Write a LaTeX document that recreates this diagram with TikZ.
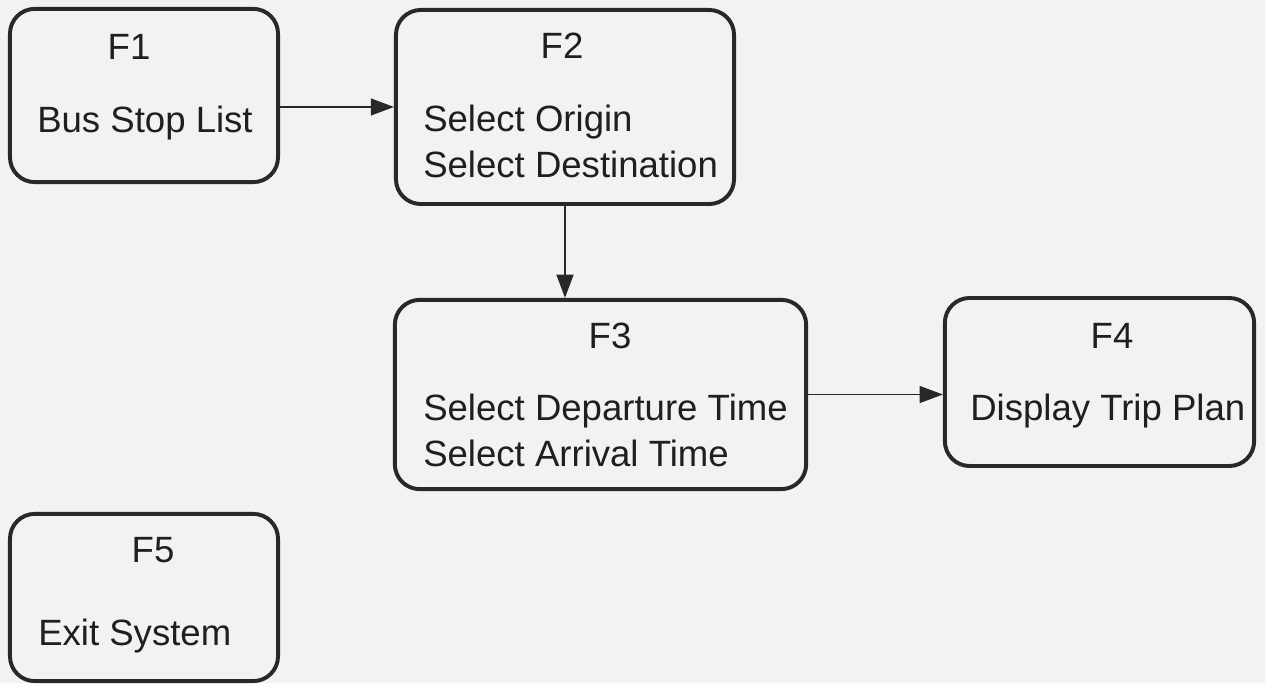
\documentclass[tikz,border=0pt]{standalone}
\usepackage{fontspec}
\setmainfont{Liberation Sans}
\usetikzlibrary{arrows.meta,positioning}
\definecolor{boxline}{RGB}{40,40,40}
\definecolor{paper}{RGB}{242,242,242}

\begin{document}
\begin{tikzpicture}[x=0.025cm, y=-0.025cm,
    func/.style={rectangle, rounded corners=0.62cm, draw=boxline, line width=2.8pt, inner sep=0pt},
    tag/.style={font=\fontsize{26}{33.3}\selectfont, text=black!88, inner sep=0pt},
    body/.style={tag, anchor=west, align=left},
    flow/.style={draw=boxline, line width=1.4pt, -{Triangle[length=0.58cm,width=0.42cm]}},
]
    % Background
    \fill[paper] (0,0) rectangle (1265,683);

    % Function boxes
    \node[func, minimum width=6.7cm, minimum height=4.33cm] (f1) at (144,95.5) {};
    \node[func, minimum width=8.45cm, minimum height=4.85cm] (f2) at (565,107) {};
    \node[func, minimum width=10.28cm, minimum height=4.73cm] (f3) at (600.5,394.5) {};
    \node[func, minimum width=7.73cm, minimum height=4.2cm] (f4) at (1099.5,382) {};
    \node[func, minimum width=6.7cm, minimum height=4.18cm] (f5) at (144,597.5) {};

    % Labels
    \node[tag] (f1tag) at (129,47) {F1};
    \node[body] (f1txt) at (37,123) {Bus Stop List};

    \node[tag] (f2tag) at (562,46) {F2};
    \node[body] (f2txt) at (423,141.5) {Select Origin\\Select Destination};

    \node[tag] (f3tag) at (610,336) {F3};
    \node[body] (f3txt) at (423,430.5) {Select Departure Time\\Select Arrival Time};

    \node[tag] (f4tag) at (1112,336) {F4};
    \node[body] (f4txt) at (970,411) {Display Trip Plan};

    \node[tag] (f5tag) at (153,550) {F5};
    \node[body] (f5txt) at (38,636) {Exit System};

    % Flow
    \draw[flow] (f1.east |- f2.west) -- (f2.west);
    \draw[flow] (f2.south) -- (f2.south |- f3.north);
    \draw[flow] (f3.east) -- (f3.east -| f4.west);
\end{tikzpicture}
\end{document}
